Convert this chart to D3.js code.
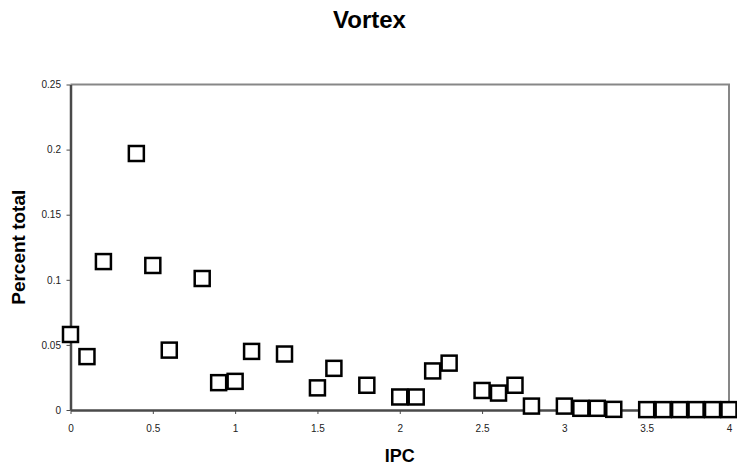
<!DOCTYPE html>
<html>
<head>
<meta charset="utf-8">
<script src="https://cdn.jsdelivr.net/npm/d3@7/dist/d3.min.js"></script>
<style>
  body { margin: 0; background: #fff; }
  svg text { font-family: "Liberation Sans", Arial, sans-serif; }
</style>
</head>
<body>
<div id="chart"></div>
<script>
// IPC vs percent total
const ipc = [0, 0.1, 0.2, 0.4, 0.5, 0.6, 0.8, 0.9, 1.0, 1.1, 1.3, 1.5, 1.6, 1.8, 2.0, 2.1, 2.2, 2.3,
             2.5, 2.6, 2.7, 2.8, 3.0, 3.1, 3.2, 3.3, 3.5, 3.6, 3.7, 3.8, 3.9, 4.0];
const percentTotal = [0.058, 0.041, 0.114, 0.197, 0.111, 0.046, 0.101, 0.021, 0.022, 0.045, 0.043, 0.017, 0.032, 0.019, 0.010, 0.010, 0.030, 0.036,
                      0.015, 0.013, 0.019, 0.003, 0.003, 0.0013, 0.0013, 0.0005, 0.0003, 0.0003, 0.0003, 0.0003, 0.0003, 0.0003];
const xTicks = [0, 0.5, 1, 1.5, 2, 2.5, 3, 3.5, 4];
const yTicks = [0, 0.05, 0.1, 0.15, 0.2, 0.25];

const width = 737, height = 472;
const margin = {left: 70.5, right: 8, top: 84.5, bottom: 62};

const svg = d3.select('#chart')
    .append('svg')
    .attr('width', width)
    .attr('height', height);

const x = d3.scaleLinear()
    .domain([0, 4])
    .range([margin.left, width - margin.right]);

const y = d3.scaleLinear()
    .domain([0, 0.25])
    .range([height - margin.bottom, margin.top]);

// top and right frame
svg.append('path')
    .attr('d', `M${x(0)},${y(0.25)}H${x(4)}V${y(0)}`)
    .style('fill', 'none')
    .style('stroke', '#878787')
    .style('stroke-width', 2);

// axes
const xAxis = svg.append('g')
    .attr('transform', `translate(0,${y(0)})`)
    .call(d3.axisBottom(x).tickValues(xTicks).tickSize(4).tickSizeOuter(0).tickFormat(d3.format('')));

const yAxis = svg.append('g')
    .attr('transform', `translate(${x(0)},0)`)
    .call(d3.axisLeft(y).tickValues(yTicks).tickSize(4).tickSizeOuter(0).tickFormat(d3.format('')));

[xAxis, yAxis].forEach(g => {
    g.select('.domain').style('stroke', '#4a4a4a').style('stroke-width', 2.5);
    g.selectAll('.tick line').style('stroke', '#4a4a4a').style('stroke-width', 1);
    g.selectAll('.tick text')
        .style('font-size', '10px')
        .style('fill', '#222');
});
xAxis.selectAll('.tick text').attr('dy', '1.5em');
yAxis.selectAll('.tick text').attr('x', -9.5);

// markers
const s = 15;
svg.append('g')
    .selectAll('rect')
    .data(ipc)
    .join('rect')
    .attr('x', (d) => x(d) - s / 2)
    .attr('y', (d, i) => y(percentTotal[i]) - s / 2)
    .attr('width', s)
    .attr('height', s)
    .style('fill', '#fff')
    .style('stroke', '#000')
    .style('stroke-width', 2.5);

// titles
svg.append('text')
    .attr('x', width / 2 + 1)
    .attr('y', 28)
    .attr('text-anchor', 'middle')
    .style('font-size', '24px')
    .style('font-weight', 'bold')
    .text('Vortex');

svg.append('text')
    .attr('x', x(2))
    .attr('y', 462)
    .attr('text-anchor', 'middle')
    .style('font-size', '18px')
    .style('font-weight', 'bold')
    .text('IPC');

svg.append('text')
    .attr('transform', `translate(25,${(y(0) + y(0.25)) / 2}) rotate(-90)`)
    .attr('text-anchor', 'middle')
    .style('font-size', '19px')
    .style('font-weight', 'bold')
    .text('Percent total');
</script>
</body>
</html>
